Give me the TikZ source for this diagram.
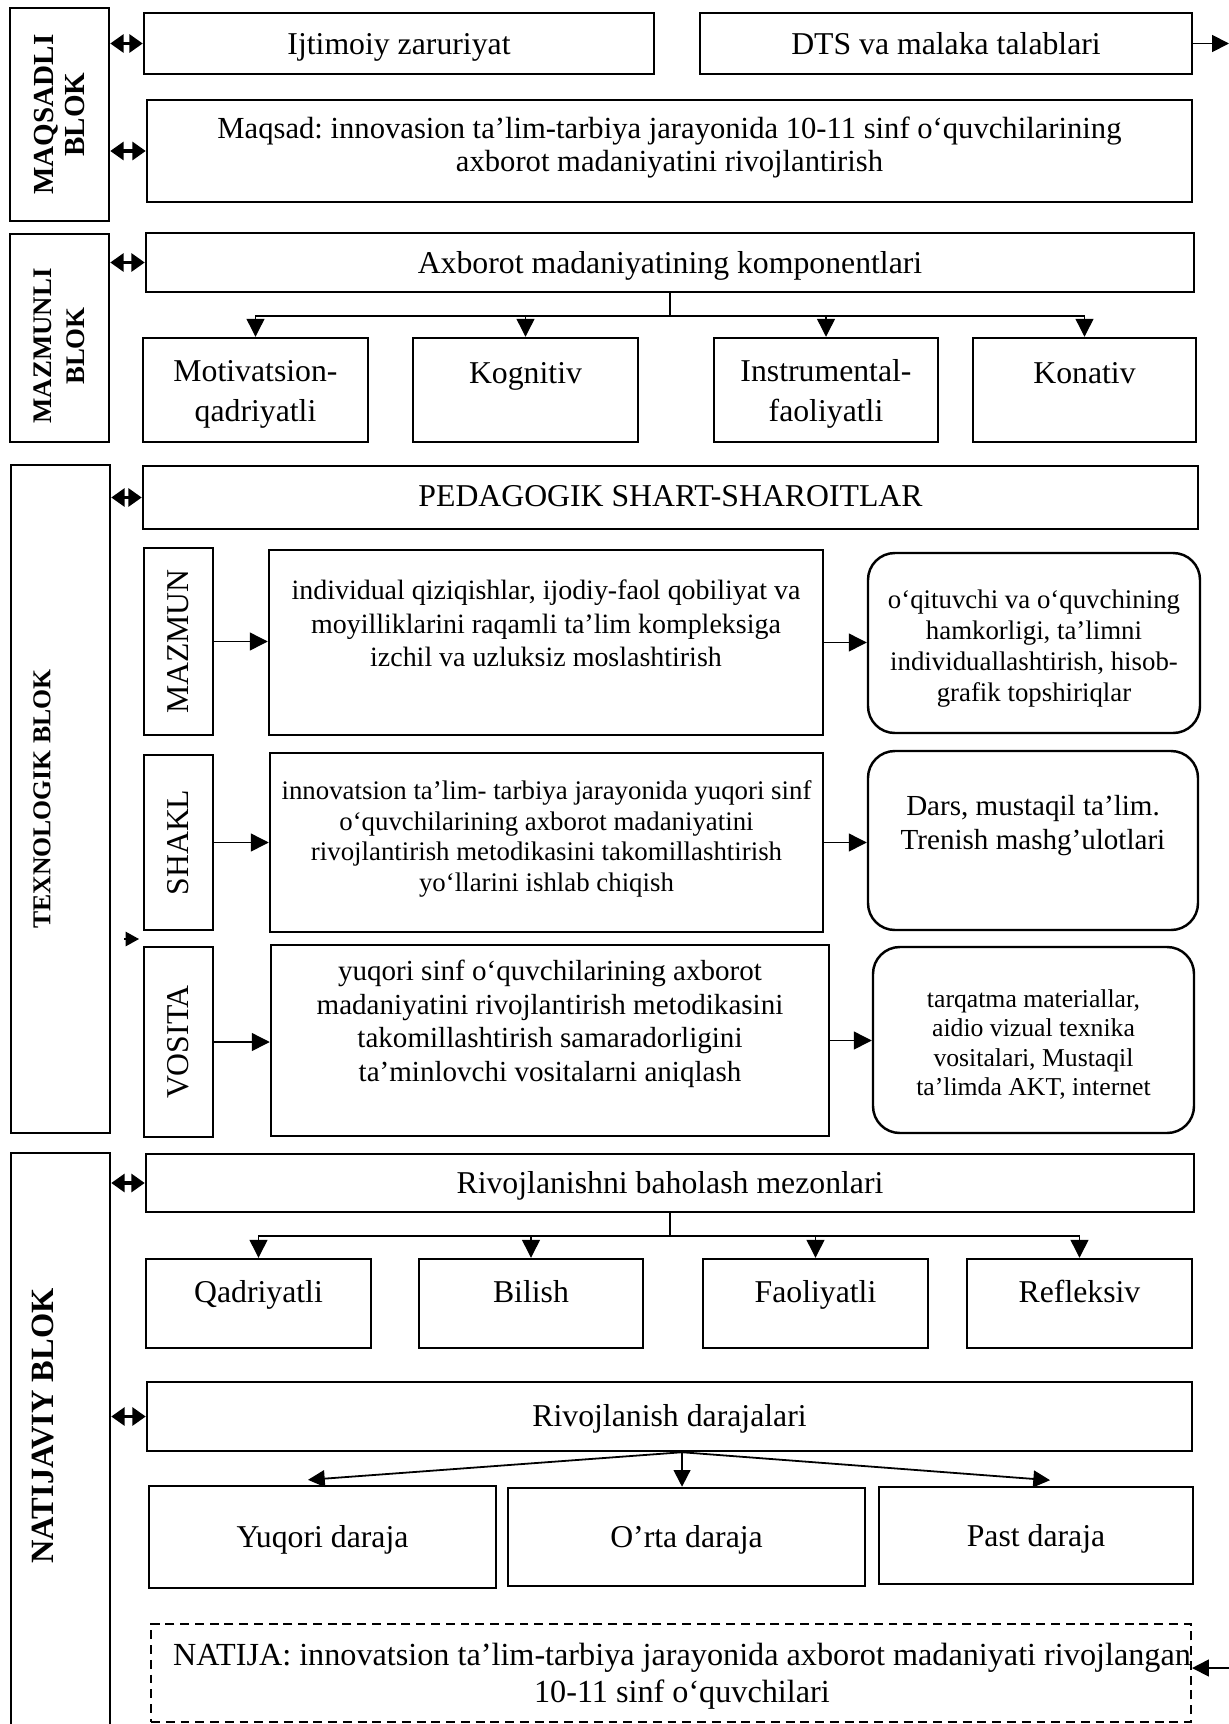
\documentclass[tikz,border=0pt]{standalone}
\usepackage{fontspec}
\setmainfont{Liberation Serif}
\usetikzlibrary{arrows.meta}
\tikzset{
  sz/.style 2 args={minimum width={#1*0.4472pt},minimum height={#2*0.4472pt}},
  box/.style={draw,line width=1.1pt,inner sep=0pt,align=center,font=\fontsize{14.2}{16.5}\selectfont},
  one/.style={text height=9.6pt,text depth=0pt},
  rbox/.style={box,rounded corners=12pt},
  blk/.style={box,rotate=90,font=\bfseries\fontsize{13}{15}\selectfont},
  vlab/.style={box,rotate=90},
  dashbox/.style={box,line width=0.9pt,dash pattern=on 4pt off 2.6pt},
  dbl/.style={{Triangle[length=6pt,width=8pt]}-{Triangle[length=6pt,width=8pt]},line width=1.5pt},
  arr/.style={-{Triangle[length=8pt,width=8pt]},line width=0.6pt},
  arrb/.style={-{Triangle[length=7.5pt,width=7.5pt]},line width=0.8pt},
  stub/.style={-{Triangle[length=6pt,width=6.5pt]},line width=0.5pt},
  thinline/.style={line width=0.6pt}
}
\begin{document}
\frenchspacing
\begin{tikzpicture}[x=0.4472pt,y=-0.4472pt]
\useasboundingbox (0,0) rectangle (1229,1724);
\fill[white] (0,0) rectangle (1229,1724);

% ---------- MAQSADLI BLOK ----------
\node[blk,sz={213}{99},font=\bfseries\fontsize{13}{14}\selectfont] (maq) at (59.5,114.5) {MAQSADLI\\BLOK};
\node[box,one,sz={510}{61}] (ijt) at (399,43.5) {Ijtimoiy zaruriyat};
\node[box,one,sz={492}{61}] (dts) at (946,43.5) {DTS va malaka talablari};
\node[box,sz={1045}{102},font=\fontsize{13.7}{14.5}\selectfont] (mq) at (669.5,151)
  {Maqsad: innovasion ta’lim-tarbiya jarayonida 10-11 sinf o‘quvchilarining\\ axborot madaniyatini rivojlantirish\\[-8.5pt]\mbox{}};

% ---------- MAZMUNLI BLOK ----------
\node[blk,sz={208}{99},font=\bfseries\fontsize{12}{15}\selectfont] (maz) at (59.5,338) {MAZMUNLI\hspace*{7.2pt}\\BLOK\hspace*{7.2pt}};
\node[box,one,sz={1048}{59}] (ax) at (670,262.5) {Axborot madaniyatining komponentlari};
\node[box,sz={225}{104},font=\fontsize{14.2}{18}\selectfont] (mot) at (255.5,390) {\mbox{}\\[-4.9pt]Motivatsion-\\qadriyatli};
\node[box,sz={225}{104}] (kog) at (525.5,390) {Kognitiv\\[-1.5pt]\mbox{}};
\node[box,sz={224}{104},font=\fontsize{14.2}{18}\selectfont] (ins) at (826,390) {\mbox{}\\[-4.9pt]Instrumental-\\faoliyatli};
\node[box,sz={223}{104}] (kon) at (1084.5,390) {Konativ\\[-1.5pt]\mbox{}};

% ---------- TEXNOLOGIK BLOK ----------
\node[blk,sz={668}{99},font=\bfseries\fontsize{11.5}{14}\selectfont] (tex) at (60.5,799) {TEXNOLOGIK BLOK\\[2.6pt]\mbox{}};
\node[box,one,text depth=1.8pt,sz={1055}{63}] (ped) at (670.5,497.5) {PEDAGOGIK SHART-SHAROITLAR};

\node[vlab,sz={187}{69}] (mz) at (178.5,641.5) {MAZMUN};
\node[box,sz={554}{185},font=\fontsize{12.5}{15}\selectfont] (b1) at (546,642.5)
  {individual qiziqishlar, ijodiy-faol qobiliyat va\\ moyilliklarini raqamli ta’lim kompleksiga\\ izchil va uzluksiz moslashtirish\\[2pt]\mbox{}};
\node[rbox,sz={332}{180},font=\fontsize{12}{13.8}\selectfont] (r1) at (1034,643)
  {\mbox{}\\[-0.6pt]o‘qituvchi va o‘quvchining\\ hamkorligi, ta’limni\\ individuallashtirish, hisob-\\ grafik topshiriqlar};

\node[vlab,sz={175}{69}] (sh) at (178.5,842.5) {SHAKL};
\node[box,sz={553}{179},font=\fontsize{12}{13.8}\selectfont] (b2) at (546.5,842.5)
  {innovatsion ta’lim- tarbiya jarayonida yuqori sinf\\ o‘quvchilarining axborot madaniyatini\\ rivojlantirish metodikasini takomillashtirish\\ yo‘llarini ishlab chiqish\\[-8pt]\mbox{}};
\node[rbox,sz={330}{179},font=\fontsize{13}{15}\selectfont] (r2) at (1033,840.5)
  {Dars, mustaqil ta’lim.\\ Trenish mashg’ulotlari\\[1pt]\mbox{}};

\node[vlab,sz={190}{69}] (vo) at (178.5,1042) {VOSITA};
\node[box,sz={558}{191},font=\fontsize{13}{15}\selectfont] (b3) at (550,1040.5)
  {yuqori sinf o‘quvchilarining axborot\\ madaniyatini rivojlantirish metodikasini\\ takomillashtirish samaradorligini\\ ta’minlovchi vositalarni aniqlash\\[2.6pt]\mbox{}};
\node[rbox,sz={321}{186},font=\fontsize{11.5}{13.2}\selectfont] (r3) at (1033.5,1040)
  {\mbox{}\\[-1pt]tarqatma materiallar,\\ aidio vizual texnika\\ vositalari, Mustaqil\\ ta’limda AKT, internet};

% ---------- NATIJAVIY BLOK ----------
\node[blk,sz={587}{99},font=\bfseries\fontsize{14.5}{16}\selectfont] (nb) at (60.5,1446.5) {\hspace*{18.4pt}NATIJAVIY BLOK\\\mbox{}};
\node[box,one,sz={1048}{58}] (rb) at (670,1183) {Rivojlanishni baholash mezonlari};
\node[box,sz={225}{89}] (qad) at (258.5,1303.5) {Qadriyatli\\[-5.9pt]\mbox{}};
\node[box,sz={224}{89}] (bil) at (531,1303.5) {Bilish\\[-5.9pt]\mbox{}};
\node[box,sz={225}{89}] (fao) at (815.5,1303.5) {Faoliyatli\\[-5.9pt]\mbox{}};
\node[box,sz={225}{89}] (ref) at (1079.5,1303.5) {Refleksiv\\[-5.9pt]\mbox{}};
\node[box,one,text depth=0.8pt,sz={1045}{69}] (dr) at (669.5,1416.5) {Rivojlanish darajalari};
\node[box,one,sz={347}{102}] (yuq) at (322.5,1537) {Yuqori daraja};
\node[box,one,sz={357}{98}] (ort) at (686.5,1537) {O’rta daraja};
\node[box,one,sz={314}{97}] (pst) at (1036,1535.5) {Past daraja};
\node[dashbox,sz={1040}{98},font=\fontsize{14.4}{16.5}\selectfont] (nat) at (671,1673)
  {\mbox{}\\[-3.8pt]\hspace*{9.8pt}NATIJA: innovatsion ta’lim-tarbiya jarayonida axborot madaniyati rivojlangan\\ \hspace*{9.8pt}10-11 sinf o‘quvchilari};

% ---------- connectors ----------
\draw[dbl] (maq.south |- ijt.west) -- (ijt.west);
\draw[dbl] (maq.south |- mq.west) -- (mq.west);
\draw[dbl] (maz.south |- ax.west) -- (ax.west);
\draw[dbl] (tex.south |- ped.west) -- (ped.west);
\draw[dbl] (nb.south |- rb.west) -- (rb.west);
\draw[dbl] (nb.south |- dr.west) -- (dr.west);

\coordinate (dtsE) at (1229,43.5);
\draw[arrb] (dts.east) -- (dtsE);

\coordinate (axj) at (670,316);
\draw[thinline] (ax.south) -- (axj);
\draw[arr] (axj) -| (mot.north);
\draw[arr] (axj) -| (kog.north);
\draw[arr] (axj) -| (ins.north);
\draw[arr] (axj) -| (kon.north);

\draw[arr] (mz.south) -- (mz.south -| b1.west);
\draw[arr] (b1.east) -- (b1.east -| r1.west);
\draw[arr] (sh.south) -- (sh.south -| b2.west);
\draw[arr] (b2.east) -- (b2.east -| r2.west);
\draw[arr] (vo.south) -- (vo.south -| b3.west);
\draw[arr] (b3.east) -- (b3.east -| r3.west);

\coordinate (sa) at (124,939);
\coordinate (sb) at (139,939);
\draw[stub] (sa) -- (sb);

\coordinate (rbj) at (670,1236);
\draw[thinline] (rb.south) -- (rbj);
\draw[arr] (rbj) -| (qad.north);
\draw[arr] (rbj) -| (bil.north);
\draw[arr] (rbj) -| (fao.north);
\draw[arr] (rbj) -| (ref.north);

\coordinate (drj) at ([xshift=-2pt]ort.north |- dr.south);
\draw[arrb] (drj) -- ([xshift=-6.5pt,yshift=2.2pt]yuq.north);
\draw[arrb] (drj) -- (drj |- ort.north);
\draw[arrb] (drj) -- ([xshift=6.3pt,yshift=2.5pt]pst.north);

\coordinate (natE) at (1229,1668);
\draw[arrb] (natE) -- (nat.east |- natE);
\end{tikzpicture}
\end{document}
